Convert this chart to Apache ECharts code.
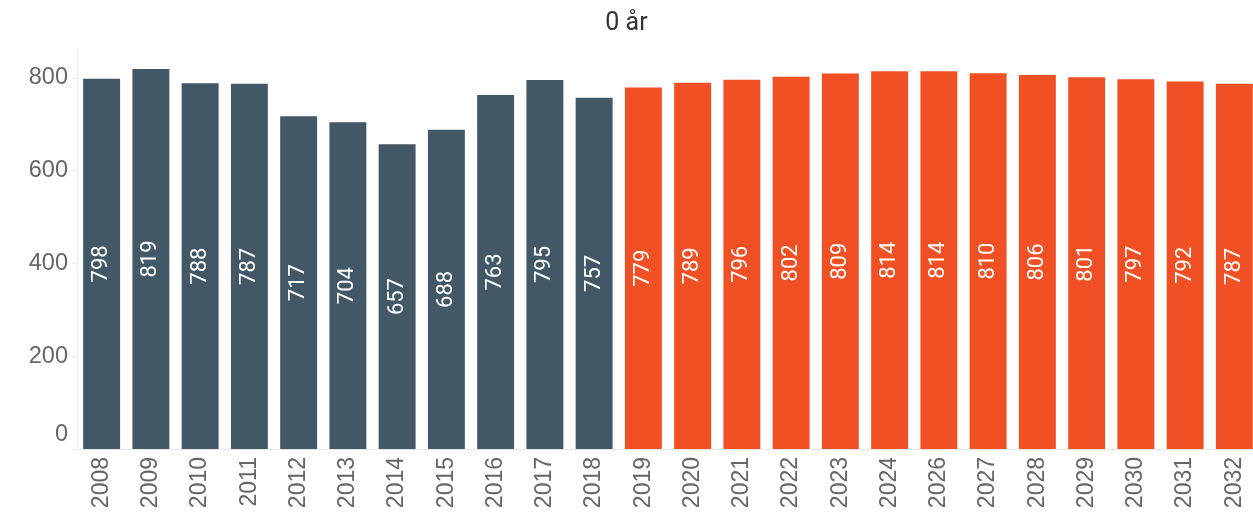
<!DOCTYPE html>
<html><head><meta charset="utf-8">
<script src="https://cdn.jsdelivr.net/npm/echarts@6/dist/echarts.min.js"></script>
<style>html,body{margin:0;padding:0;background:#fff}#c{width:1253px;height:516px}</style>
</head><body><div id="c"></div>
<script>
const categories = ['2008','2009','2010','2011','2012','2013','2014','2015','2016','2017','2018','2019','2020','2021','2022','2023','2024','2026','2027','2028','2029','2030','2031','2032'];
const historical = [798,819,788,787,717,704,657,688,763,795,757];
const forecast = [779,789,796,802,809,814,814,810,806,801,797,792,787];
const yTicks = [0,200,400,600,800];
const titleText = '0 år';

const data = historical.map(v => ({value: v, itemStyle: {color: '#435866'}}))
  .concat(forecast.map(v => ({value: v, itemStyle: {color: '#F05023'}})));

const chart = echarts.init(document.getElementById('c'), null, {renderer: 'canvas'});
chart.setOption({
  animation: false,
  title: {text: titleText, left: 'center', top: 6, textStyle: {fontFamily: 'Roboto', fontSize: 25, fontWeight: 'normal', color: '#333'}},
  grid: {left: 77, width: 1182, top: 49, height: 400, containLabel: false, outerBoundsMode: 'none'},
  xAxis: {
    type: 'category', data: categories,
    axisLine: {lineStyle: {color: '#e6e6e6'}},
    axisTick: {lineStyle: {color: '#e6e6e6'}, length: 4},
    axisLabel: {rotate: 90, fontFamily: 'Liberation Sans', fontSize: 23, color: '#666', margin: 8}
  },
  yAxis: {
    type: 'value', min: 0, max: 862, interval: 200,
    splitLine: {show: false},
    axisLine: {show: true, lineStyle: {color: '#eeeeee'}},
    axisTick: {show: true, length: 5, lineStyle: {color: '#eeeeee'}},
    axisLabel: {
      showMaxLabel: false, fontFamily: 'Liberation Sans', fontSize: 23.5, color: '#666', margin: 9,
      formatter: v => yTicks.includes(v) ? (v === 0 ? '{z|0}' : String(v)) : '',
      rich: {z: {fontFamily: 'Liberation Sans', fontSize: 23.5, color: '#666', padding: [0,0,28,0]}}
    }
  },
  series: [{
    type: 'bar', data: data, barCategoryGap: '25%',
    label: {show: true, position: 'inside', rotate: 90, color: '#fff', fontFamily: 'Roboto', fontSize: 22}
  }]
});
</script></body></html>
